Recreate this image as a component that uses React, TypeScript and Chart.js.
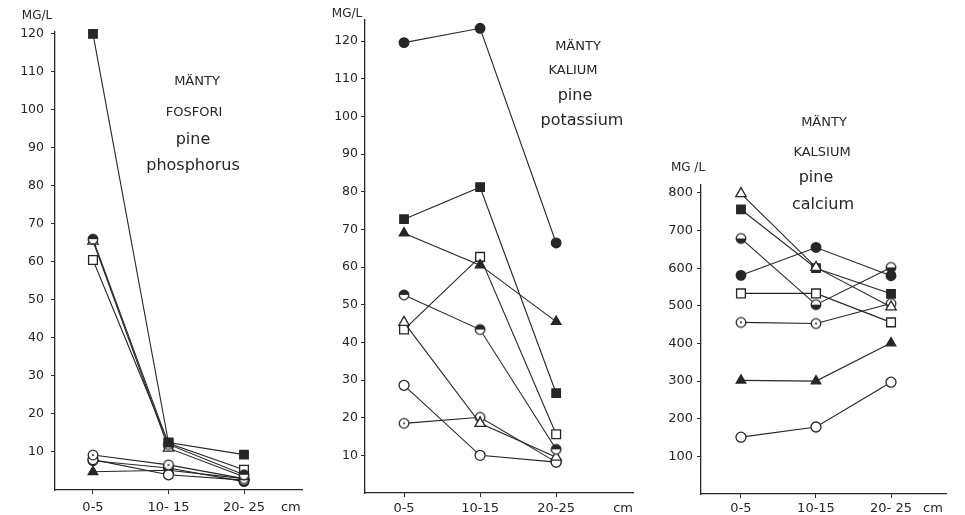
import React, { useEffect, useRef } from "react";
import { Chart, registerables } from "chart.js";
Chart.register(...registerables);

// ---------- data ----------
const depthsP = ["0-5", "10- 15", "20- 25"];
const depthsK = ["0-5", "10-15", "20-25"];
const depthsCa = ["0-5", "10-15", "20- 25"];
const unitLabel = "cm";

const yTicksP = [10, 20, 30, 40, 50, 60, 70, 80, 90, 100, 110, 120];
const yTicksK = [10, 20, 30, 40, 50, 60, 70, 80, 90, 100, 110, 120];
const yTicksCa = [100, 200, 300, 400, 500, 600, 700, 800];

// phosphorus (mg/l)
const P_filledSquare = [120, 12.5, 9.3];
const P_halfCircle = [66, 12, 4];
const P_openTriangle = [65.5, 11, 3.5];
const P_openSquare = [60.5, 12.3, 5.3];
const P_dotCircle = [9.2, 6.6, 3];
const P_openCircle = [8, 4, 2.6];
const P_filledCircle = [7.7, 5.8, 2.2];
const P_filledTriangle = [4.8, 5.2, 3];

// potassium (mg/l)
const K_filledCircle = [119.6, 123.4, 66.4];
const K_filledSquare = [72.7, 81.2, 26.5];
const K_filledTriangle = [69, 60.5, 45.5];
const K_halfCircle = [52.6, 43.4, 11.6];
const K_openTriangle = [45.3, 18.5, 9.5];
const K_openSquare = [43.4, 62.7, 15.6];
const K_openCircle = [28.6, 10, 8.2];
const K_dotCircle = [18.5, 20.1, 8.2];

// calcium (mg/l)
const Ca_openTriangle = [798, 602, 497];
const Ca_filledSquare = [756, 600, 532];
const Ca_halfCircle = [679, 503, 602];
const Ca_filledCircle = [581, 655, 580];
const Ca_openSquare = [533, 533, 456];
const Ca_dotCircle = [456, 453, 506];
const Ca_filledTriangle = [302, 300, 401];
const Ca_openCircle = [151, 178, 297];

const DARK = "#262626";
const FONT = "'DejaVu Sans', sans-serif";

function makeHalfCircle(r: number, topFilled: boolean) {
  const s = Math.ceil(2 * r + 4);
  const c = document.createElement("canvas");
  c.width = s; c.height = s;
  const ctx = c.getContext("2d")!;
  const m = s / 2;
  ctx.beginPath(); ctx.arc(m, m, r, 0, Math.PI * 2); ctx.fillStyle = "#fff"; ctx.fill();
  ctx.beginPath();
  if (topFilled) ctx.arc(m, m, r, Math.PI, 0); else ctx.arc(m, m, r, 0, Math.PI);
  ctx.closePath(); ctx.fillStyle = DARK; ctx.fill();
  ctx.beginPath(); ctx.arc(m, m, r, 0, Math.PI * 2); ctx.lineWidth = 1.3; ctx.strokeStyle = DARK; ctx.stroke();
  return c;
}
function makeDotCircle(r: number) {
  const s = Math.ceil(2 * r + 4);
  const c = document.createElement("canvas");
  c.width = s; c.height = s;
  const ctx = c.getContext("2d")!;
  const m = s / 2;
  ctx.beginPath(); ctx.arc(m, m, r, 0, Math.PI * 2); ctx.fillStyle = "#fff"; ctx.fill();
  ctx.lineWidth = 1.3; ctx.strokeStyle = DARK; ctx.stroke();
  ctx.beginPath(); ctx.arc(m, m, 1, 0, Math.PI * 2); ctx.fillStyle = DARK; ctx.fill();
  return c;
}

type Marker = { style: any; r: number; fill: string };
function markers(halfTop: boolean): Record<string, Marker> {
  return {
    filledCircle: { style: "circle", r: 4.8, fill: DARK },
    filledSquare: { style: "rect", r: 6, fill: DARK },
    filledTriangle: { style: "triangle", r: 5.5, fill: DARK },
    openTriangle: { style: "triangle", r: 6, fill: "#fff" },
    openSquare: { style: "rect", r: 6.2, fill: "#fff" },
    openCircle: { style: "circle", r: 5, fill: "#fff" },
    halfCircle: { style: makeHalfCircle(4.8, halfTop), r: 5, fill: DARK },
    dotCircle: { style: makeDotCircle(4.8), r: 5, fill: "#fff" },
  };
}

type Panel = {
  xLabels: string[];
  cmPos: number;
  yTicks: number[];
  yMax: number;
  xMin: number; xMax: number;
  axisX: number; right: number; top: number; bottom: number;
  yFont: number; yPad: number; xPad: number;
  series: [string, number[]][];
  halfTop: boolean;
  texts: { t: string; x: number; y: number; size: number }[];
};

const panels: Panel[] = [
  {
    xLabels: depthsP, cmPos: 2.62, yTicks: yTicksP, yMax: 120.5,
    xMin: -0.503, xMax: 2.768, axisX: 55, right: 302, top: 32, bottom: 490,
    yFont: 12.5, yPad: 7, xPad: 6, halfTop: true,
    series: [
      ["filledSquare", P_filledSquare], ["halfCircle", P_halfCircle], ["openTriangle", P_openTriangle],
      ["openSquare", P_openSquare], ["dotCircle", P_dotCircle], ["openCircle", P_openCircle],
      ["filledCircle", P_filledCircle], ["filledTriangle", P_filledTriangle],
    ],
    texts: [
      { t: "MG/L", x: 37, y: 16, size: 12 },
      { t: "MÄNTY", x: 197, y: 82, size: 13 },
      { t: "FOSFORI", x: 194, y: 113, size: 13 },
      { t: "pine", x: 193, y: 140, size: 16 },
      { t: "phosphorus", x: 193, y: 166, size: 16 },
    ],
  },
  {
    xLabels: depthsK, cmPos: 2.88, yTicks: yTicksK, yMax: 125.6,
    xMin: -0.513, xMax: 3.01, axisX: 365, right: 633, top: 20, bottom: 493,
    yFont: 12.5, yPad: 3, xPad: 4, halfTop: true,
    series: [
      ["filledCircle", K_filledCircle], ["filledSquare", K_filledSquare], ["filledTriangle", K_filledTriangle],
      ["halfCircle", K_halfCircle], ["openTriangle", K_openTriangle], ["openSquare", K_openSquare],
      ["openCircle", K_openCircle], ["dotCircle", K_dotCircle],
    ],
    texts: [
      { t: "MG/L", x: 347, y: 14, size: 12 },
      { t: "MÄNTY", x: 578, y: 47, size: 13 },
      { t: "KALIUM", x: 573, y: 71, size: 13 },
      { t: "pine", x: 575, y: 96, size: 16 },
      { t: "potassium", x: 582, y: 121, size: 16 },
    ],
  },
  {
    xLabels: depthsCa, cmPos: 2.56, yTicks: yTicksCa, yMax: 821,
    xMin: -0.533, xMax: 2.733, axisX: 701, right: 946, top: 185, bottom: 494,
    yFont: 13, yPad: 4, xPad: 3, halfTop: false,
    series: [
      ["openTriangle", Ca_openTriangle], ["filledSquare", Ca_filledSquare], ["halfCircle", Ca_halfCircle],
      ["filledCircle", Ca_filledCircle], ["openSquare", Ca_openSquare], ["dotCircle", Ca_dotCircle],
      ["filledTriangle", Ca_filledTriangle], ["openCircle", Ca_openCircle],
    ],
    texts: [
      { t: "MG /L", x: 688, y: 168, size: 12 },
      { t: "MÄNTY", x: 824, y: 123, size: 13 },
      { t: "KALSIUM", x: 822, y: 153, size: 13 },
      { t: "pine", x: 816, y: 178, size: 16 },
      { t: "calcium", x: 823, y: 205, size: 16 },
    ],
  },
];

const W = 965, H = 515, YW = 50;

function buildConfig(p: Panel): any {
  const mk = markers(p.halfTop);
  const datasets = p.series.map(([kind, vals]) => {
    const m = mk[kind];
    return {
      label: kind,
      data: vals.map((v, i) => ({ x: i, y: v })),
      borderColor: DARK,
      borderWidth: 1.1,
      pointStyle: m.style,
      pointRadius: m.r,
      pointBackgroundColor: m.fill,
      pointBorderColor: DARK,
      pointBorderWidth: 1.3,
      fill: false,
      tension: 0,
      clip: false,
    };
  });
  const textPlugin = {
    id: "texts",
    afterDraw(chart: any) {
      const ctx = chart.ctx;
      ctx.save();
      ctx.fillStyle = DARK;
      ctx.textAlign = "center";
      ctx.textBaseline = "middle";
      for (const t of p.texts) {
        ctx.font = `${t.size}px ${FONT}`;
        ctx.fillText(t.t, t.x, t.y);
      }
      ctx.restore();
    },
  };
  return {
    type: "line",
    data: { datasets },
    plugins: [textPlugin],
    options: {
      animation: false,
      responsive: false,
      devicePixelRatio: 1,
      events: [],
      layout: { padding: { left: p.axisX - YW, right: W - p.right, top: p.top, bottom: 0 } },
      plugins: { legend: { display: false }, tooltip: { enabled: false }, title: { display: false } },
      scales: {
        x: {
          type: "linear",
          min: p.xMin,
          max: p.xMax,
          afterBuildTicks: (s: any) => {
            s.ticks = [...p.xLabels.map((_, i) => ({ value: i })), { value: p.cmPos }];
          },
          afterFit: (s: any) => { s.height = H - p.bottom; },
          ticks: {
            autoSkip: false,
            maxRotation: 0,
            padding: p.xPad,
            color: DARK,
            font: { family: FONT, size: 13 },
            callback: (v: number) => (Math.abs(v - p.cmPos) < 1e-6 ? unitLabel : p.xLabels[Math.round(v)]),
          },
          grid: {
            drawOnChartArea: false,
            drawTicks: true,
            tickLength: 4,
            tickColor: (c: any) => (c.tick && Math.abs(c.tick.value - p.cmPos) < 1e-6 ? "rgba(0,0,0,0)" : DARK),
          },
          border: { display: true, color: DARK, width: 1.3 },
        },
        y: {
          type: "linear",
          min: 0,
          max: p.yMax,
          afterBuildTicks: (s: any) => { s.ticks = p.yTicks.map((v) => ({ value: v })); },
          afterFit: (s: any) => { s.width = YW; },
          ticks: {
            padding: p.yPad,
            color: DARK,
            font: { family: FONT, size: p.yFont },
          },
          grid: { drawOnChartArea: false, drawTicks: true, tickLength: 4, tickColor: DARK },
          border: { display: true, color: DARK, width: 1.3 },
        },
      },
    },
  };
}

function PanelChart({ p }: { p: Panel }) {
  const ref = useRef<HTMLCanvasElement>(null);
  useEffect(() => {
    const chart = new Chart(ref.current!, buildConfig(p));
    return () => chart.destroy();
  }, [p]);
  return (
    <canvas
      ref={ref}
      width={W}
      height={H}
      style={{ position: "absolute", left: 0, top: 0, width: W, height: H }}
    />
  );
}

export default function App() {
  return (
    <div style={{ position: "absolute", left: 0, top: 0, width: W, height: H, background: "#fff", overflow: "hidden" }}>
      {panels.map((p, i) => (
        <PanelChart key={i} p={p} />
      ))}
    </div>
  );
}
